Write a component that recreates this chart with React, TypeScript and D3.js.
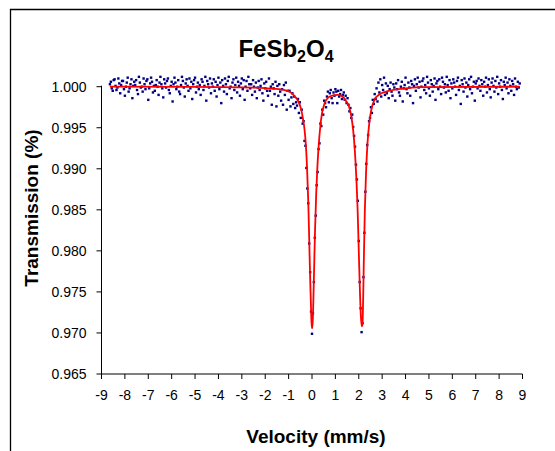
import React from "react";
import * as d3 from "d3";

// Channel velocities: first channel and channel step (mm/s)
const channelStart = -8.64;
const channelStep = 0.04;

const transLeft = [
  1.0003, 1.0006, 0.9998, 0.9995, 1.0008, 1.0009, 1.0001, 0.9996, 0.9999, 1.0010,
  1.0004, 0.9992, 1.0002, 1.0007, 1.0007, 0.9997, 0.9989, 1.0000, 1.0005, 1.0011,
  0.9994, 0.9998, 1.0003, 1.0009, 0.9986, 1.0001, 1.0006, 1.0002, 1.0008, 0.9996,
  0.9991, 1.0012, 1.0005, 0.9999, 1.0000, 0.9994, 1.0010, 1.0003, 0.9997, 1.0007,
  1.0009, 0.9984, 0.9998, 1.0004, 1.0011, 1.0006, 0.9993, 1.0001, 0.9995, 1.0002,
  1.0008, 1.0000, 0.9990, 1.0005, 1.0012, 1.0003, 0.9998, 0.9987, 1.0009, 1.0004,
  0.9999, 1.0007, 1.0010, 0.9996, 0.9992, 1.0001, 1.0006, 0.9982, 1.0003, 1.0011,
  1.0005, 0.9997, 1.0000, 1.0008, 0.9994, 0.9991, 1.0002, 1.0012, 1.0007, 0.9999,
  0.9988, 1.0004, 1.0009, 1.0001, 0.9995, 1.0010, 0.9998, 1.0006, 0.9985, 1.0003,
  1.0008, 1.0011, 0.9993, 1.0000, 1.0005, 0.9997, 1.0002, 0.9990, 1.0009, 1.0006,
  0.9996, 1.0001, 1.0012, 0.9983, 1.0007, 1.0003, 0.9999, 1.0010, 0.9992, 1.0004,
  1.0000, 1.0009, 0.9995, 1.0006, 0.9988, 1.0002, 1.0011, 0.9997, 1.0005, 0.9980,
  1.0008, 1.0001, 0.9994, 1.0010, 1.0003, 0.9991, 1.0007, 1.0012, 0.9998, 1.0000,
  0.9986, 1.0005, 1.0009, 0.9996, 1.0002, 1.0011, 0.9993, 1.0006, 1.0001, 0.9989,
  1.0004, 1.0010, 0.9997, 1.0008, 0.9984, 1.0000, 1.0007, 0.9995, 1.0012, 1.0003,
  0.9998,
];
const transShoulder = [
  1.0003, 0.9990, 1.0008, 1.0000, 0.9994, 1.0005, 0.9986, 0.9999, 1.0007, 0.9996,
  1.0001, 1.0009, 0.9992, 0.9983, 1.0004, 0.9998, 1.0006, 0.9995, 0.9989, 1.0010,
  0.9995, 1.0000, 0.9978, 1.0003, 0.9998, 0.9991, 1.0006, 0.9976, 1.0001, 0.9989,
  1.0003, 0.9994, 0.9983, 0.9997, 0.9978, 1.0002, 0.9990, 1.0005, 0.9972, 0.9995,
  0.9984, 0.9995, 0.9976, 0.9987, 0.9992, 0.9979, 0.9988, 0.9974, 0.9981, 0.9977,
];
const transDip1 = [
  0.9985, 0.9968, 0.9981, 0.9962, 0.9972, 0.9955, 0.9958, 0.9934, 0.9928, 0.9901,
  0.9876, 0.9858, 0.9809, 0.9774, 0.9726, 0.9699, 0.9724, 0.9762, 0.9816, 0.9843,
  0.9880, 0.9896, 0.9924, 0.9931, 0.9955, 0.9952, 0.9972, 0.9966, 0.9983, 0.9980,
  0.9975, 0.9988, 0.9994, 0.9981, 0.9992,
];
const transHump = [
  0.9996, 0.9986, 0.9980, 0.9993, 0.9989, 0.9997, 0.9994, 0.9980, 0.9995, 0.9988,
  0.9991, 0.9996, 0.9985, 0.9990, 0.9993, 0.9984, 0.9989, 0.9980, 0.9986, 0.9978,
];
const transDip2 = [
  0.9970, 0.9974, 0.9962, 0.9966, 0.9951, 0.9940, 0.9927, 0.9905, 0.9887, 0.9861,
  0.9812, 0.9762, 0.9730, 0.9701, 0.9712, 0.9768, 0.9822, 0.9872, 0.9906, 0.9929,
  0.9941, 0.9958, 0.9962, 0.9975, 0.9968, 0.9984, 0.9979, 0.9991, 0.9985, 0.9998,
  0.9982, 1.0005, 0.9993, 1.0009, 0.9988, 1.0002, 0.9996, 1.0011, 0.9990, 1.0004,
];
const transRight = [
  0.9992, 1.0001, 0.9986, 0.9997, 1.0005, 0.9994, 0.9989, 1.0003, 0.9999, 0.9983,
  1.0004, 0.9997, 1.0008, 0.9993, 0.9989, 1.0000, 1.0006, 0.9982, 0.9998, 1.0002,
  1.0011, 0.9997, 0.9992, 1.0005, 0.9999, 0.9989, 1.0007, 1.0003, 0.9980, 1.0001,
  1.0009, 0.9995, 1.0003, 1.0011, 0.9999, 1.0006, 0.9987, 1.0000, 1.0007, 1.0010,
  0.9996, 1.0002, 0.9992, 1.0012, 1.0005, 0.9998, 0.9989, 1.0008, 1.0003, 0.9994,
  1.0001, 1.0010, 0.9984, 1.0004, 1.0007, 0.9997, 1.0009, 1.0000, 0.9991, 1.0011,
  1.0006, 0.9999, 1.0003, 0.9993, 1.0012, 1.0002, 0.9995, 1.0008, 0.9986, 1.0004,
  0.9998, 1.0009, 1.0005, 1.0000, 0.9990, 1.0007, 1.0011, 0.9996, 1.0001, 0.9979,
  1.0008, 1.0003, 0.9994, 1.0010, 0.9999, 1.0005, 0.9988, 1.0002, 1.0009, 0.9997,
  1.0012, 0.9992, 1.0000, 1.0006, 0.9983, 1.0004, 1.0007, 0.9998, 1.0010, 1.0001,
  0.9995, 1.0008, 1.0003, 0.9989, 1.0006, 1.0000, 1.0011, 0.9993, 1.0002, 1.0009,
  0.9997, 0.9987, 1.0005, 1.0010, 1.0001, 0.9994, 1.0007, 0.9999, 1.0012, 0.9991,
  1.0004, 1.0000, 1.0008, 0.9996, 0.9985, 1.0006, 1.0002, 1.0011, 0.9998, 1.0005,
  0.9992, 1.0009, 1.0001, 0.9995, 1.0007, 1.0003, 0.9990, 1.0010, 1.0000, 0.9997,
  1.0006, 0.9999, 1.0004,
];

// Fitted curve
const fitVelocity = [
  -8.64, -4.0, -3.0, -2.5, -2.0, -1.6, -1.2, -0.9, -0.75, -0.6, -0.47, -0.38, -0.32,
  -0.26, -0.21, -0.16, -0.12, -0.08, -0.04, -0.01, 0.02, 0.05, 0.09, 0.13, 0.18,
  0.23, 0.29, 0.35, 0.43, 0.53, 0.7, 0.9, 1.08, 1.28, 1.45, 1.58, 1.68, 1.76, 1.83,
  1.89, 1.95, 2.0, 2.05, 2.09, 2.13, 2.16, 2.19, 2.22, 2.26, 2.31, 2.37, 2.45, 2.53,
  2.67, 2.88, 3.17, 3.87, 4.6, 8.88,
];
const fitTransmission = [
  1.0, 0.99995, 0.99992, 0.99988, 0.99982, 0.99975, 0.9996, 0.9993, 0.99885, 0.9983,
  0.9973, 0.996, 0.9948, 0.9928, 0.99, 0.986, 0.9815, 0.9768, 0.9728, 0.9706, 0.9706,
  0.973, 0.9778, 0.9825, 0.987, 0.9902, 0.993, 0.995, 0.9968, 0.9979, 0.9987, 0.99895,
  0.999, 0.99885, 0.9983, 0.9976, 0.9964, 0.9947, 0.9923, 0.9892, 0.985, 0.98, 0.975,
  0.972, 0.9708, 0.9712, 0.9745, 0.9795, 0.985, 0.9895, 0.993, 0.9956, 0.9971, 0.9984,
  0.99905, 0.9994, 0.99976, 0.99995, 1.0,
];

// Axis ticks
const xTicks = [-9, -8, -7, -6, -5, -4, -3, -2, -1, 0, 1, 2, 3, 4, 5, 6, 7, 8, 9];
const yTicks = [0.965, 0.97, 0.975, 0.98, 0.985, 0.99, 0.995, 1.0];

const W = 555;
const H = 451;
const FONT = "'Liberation Sans', Arial, sans-serif";

export default function App() {
  const transmission = [
    ...transLeft,
    ...transShoulder,
    ...transDip1,
    ...transHump,
    ...transDip2,
    ...transRight,
  ];
  const points = transmission.map((t, i) => ({
    v: channelStart + channelStep * i,
    t,
  }));
  const fit = fitVelocity.map((v, i) => ({ v, t: fitTransmission[i] }));

  const x = d3.scaleLinear().domain([-9, 9]).range([101.5, 522.5]);
  const y = d3.scaleLinear().domain([0.965, 1.0]).range([374, 86.7]);

  const line = d3
    .line<{ v: number; t: number }>()
    .x((d) => x(d.v))
    .y((d) => y(d.t))
    .curve(d3.curveMonotoneX);

  const x0 = x(-9);
  const x1 = x(9);
  const yb = y(0.965);
  const yt = y(1.0);

  return (
    <svg
      width={W}
      height={H}
      style={{ position: "absolute", left: 0, top: 0, background: "#fff" }}
      fontFamily={FONT}
    >
      <rect x={0} y={0} width={W} height={H} fill="#fff" />
      <path d={`M10.5,${H + 2} V9.5 H${W + 2}`} fill="none" stroke="#000" strokeWidth={1.3} />

      {/* title */}
      <text x={286} y={57} textAnchor="middle" fontSize={24} fontWeight="bold" fill="#000">
        FeSb
        <tspan fontSize={16} dy={5}>2</tspan>
        <tspan dy={-5}>O</tspan>
        <tspan fontSize={16} dy={5}>4</tspan>
      </text>

      {/* axes */}
      <line x1={x0} x2={x0} y1={yt - 1} y2={yb} stroke="#000" strokeWidth={1} />
      <line x1={x0} x2={x1} y1={yb} y2={yb} stroke="#000" strokeWidth={1} />
      {yTicks.map((t) => (
        <g key={"y" + t}>
          <line x1={x0 - 5} x2={x0} y1={y(t)} y2={y(t)} stroke="#000" strokeWidth={1} />
          <text x={x0 - 15} y={y(t) + 5} textAnchor="end" fontSize={14} fill="#000">
            {t.toFixed(3)}
          </text>
        </g>
      ))}
      {xTicks.map((t) => (
        <g key={"x" + t}>
          <line x1={x(t)} x2={x(t)} y1={yb} y2={yb + 5} stroke="#000" strokeWidth={1} />
          <text x={x(t)} y={yb + 26} textAnchor="middle" fontSize={14} fill="#000">
            {t}
          </text>
        </g>
      ))}

      {/* axis titles */}
      <text x={316} y={443} textAnchor="middle" fontSize={19} fontWeight="bold" fill="#000">
        Velocity (mm/s)
      </text>
      <text
        transform={`translate(38,${208}) rotate(-90)`}
        textAnchor="middle"
        fontSize={19}
        fontWeight="bold"
        fill="#000"
      >
        Transmission (%)
      </text>

      {/* data points */}
      {points.map((p, i) => (
        <rect
          key={i}
          x={x(p.v) - 1.2}
          y={y(p.t) - 1.2}
          width={2.4}
          height={2.4}
          fill="#000080"
        />
      ))}

      {/* fit */}
      <path d={line(fit) || ""} fill="none" stroke="#ff0000" strokeWidth={1.8} />
    </svg>
  );
}
